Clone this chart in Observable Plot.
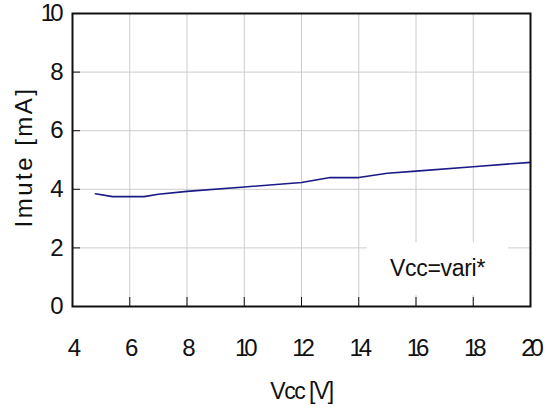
<!DOCTYPE html>
<html>
<head>
<meta charset="utf-8">
<script src="https://cdn.jsdelivr.net/npm/d3@7"></script>
<script src="https://cdn.jsdelivr.net/npm/@observablehq/plot@0.6"></script>
<style>
  html, body { margin: 0; padding: 0; background: #fff; }
  #wrap { position: relative; width: 556px; height: 409px; font-family: "Liberation Sans", Arial, sans-serif; }
  #legend { position: absolute; left: 367px; top: 242px; width: 141px; height: 53px; background: #fff;
            display: flex; align-items: center; justify-content: center; font-size: 23px; color: #111; letter-spacing: -0.3px; }
  svg g[aria-label="x-axis tick label"] text,
  svg g[aria-label="y-axis tick label"] text { letter-spacing: -4px; }
</style>
</head>
<body>
<div id="wrap"><div id="legend"></div></div>
<script>
const vcc   = [4.8, 5.4, 6.5, 7, 8, 10, 12, 13, 14, 15, 16, 18, 20];
const imute = [3.85, 3.75, 3.75, 3.83, 3.93, 4.08, 4.23, 4.4, 4.4, 4.55, 4.62, 4.77, 4.92];
const xTicks = [4, 6, 8, 10, 12, 14, 16, 18, 20];
const yTicks = [0, 2, 4, 6, 8, 10];
const xLabel = "Vcc [V]";
const yLabel = "Imute [mA]";
const legendText = "Vcc=vari*";

const data = vcc.map((v, i) => ({vcc: v, imute: imute[i]}));

const chart = Plot.plot({
  width: 556,
  height: 409,
  marginLeft: 72,
  marginRight: 26,
  marginTop: 13,
  marginBottom: 103,
  style: {fontFamily: "Liberation Sans, Arial, sans-serif", color: "#111", background: "#fff"},
  x: {domain: [4, 20]},
  y: {domain: [0, 10]},
  marks: [
    Plot.gridX(xTicks, {stroke: "#cccccc", strokeOpacity: 1}),
    Plot.gridY(yTicks, {stroke: "#cccccc", strokeOpacity: 1}),
    Plot.ruleX(xTicks.slice(1, -1), {stroke: "#111", insetTop: 284}),
    Plot.ruleY(yTicks.slice(1, -1), {stroke: "#111", insetRight: 450}),
    Plot.axisX(xTicks, {tickSize: 0, tickPadding: 32, fontSize: 24, label: null}),
    Plot.axisY(yTicks, {tickSize: 0, tickPadding: 13, fontSize: 24, label: null}),
    Plot.line(data, {x: "vcc", y: "imute", stroke: "#1a1a86", strokeWidth: 1.6}),
    Plot.frame({stroke: "#111", strokeWidth: 2}),
    Plot.text([xLabel], {frameAnchor: "bottom", textAnchor: "middle", lineAnchor: "middle", dy: 85, fontSize: 23, fill: "#111"}),
    Plot.text([yLabel], {frameAnchor: "left", textAnchor: "middle", lineAnchor: "middle", dx: -48, dy: -3, rotate: -90, fontSize: 24, fill: "#111"})
  ]
});
document.getElementById("wrap").prepend(chart);
document.getElementById("legend").textContent = legendText;
d3.select(chart).selectAll("text").each(function() {
  const t = this.textContent;
  if (t === xLabel) this.style.letterSpacing = "-1.5px";
  if (t === yLabel) this.style.letterSpacing = "2.5px";
});
</script>
</body>
</html>
